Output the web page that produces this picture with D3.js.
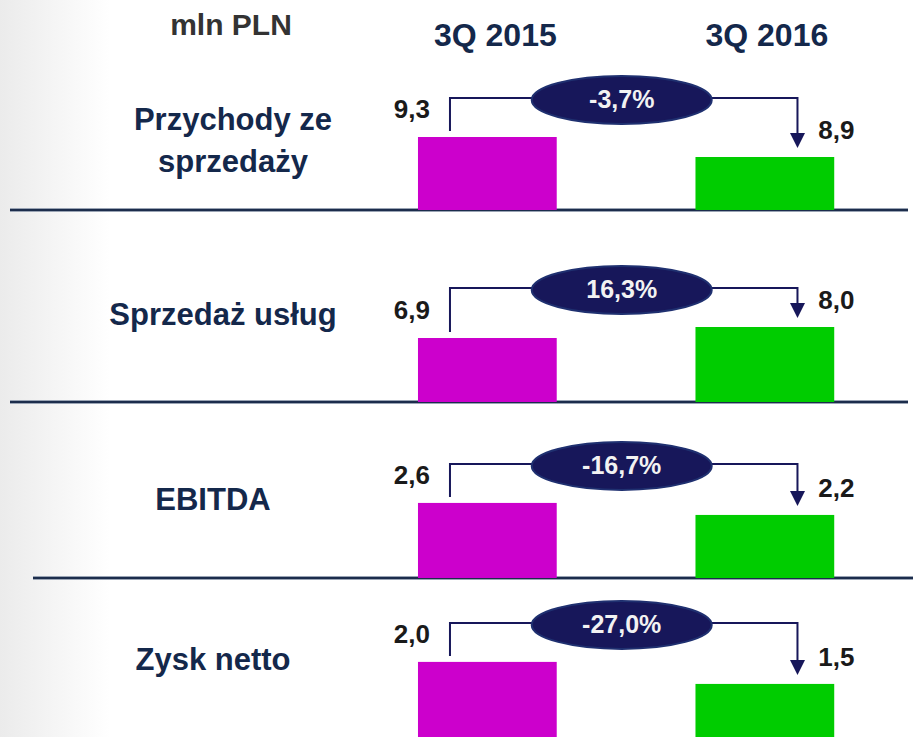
<!DOCTYPE html>
<html>
	<head>
		<meta charset="utf-8">
		<script src="https://d3js.org/d3.v7.min.js" charset="utf-8"></script>
		<style>
			body { margin: 0; background: #fff; }
			text { font-family: "Liberation Sans", Arial, sans-serif; font-weight: bold; }
		</style>
	</head>

	<body>
		<svg id="chart" width="913" height="737"></svg>

		<script>
			// data
			const unitLabel = "mln PLN";
			const periods = ["3Q 2015", "3Q 2016"];
			const categories = [["Przychody ze", "sprzedaży"], ["Sprzedaż usług"], ["EBITDA"], ["Zysk netto"]];
			const values2015 = [9.3, 6.9, 2.6, 2.0];
			const values2016 = [8.9, 8.0, 2.2, 1.5];
			const changes = ["-3,7%", "16,3%", "-16,7%", "-27,0%"];
			// each panel has its own truncated value axis
			const scaleDomains = [[7.84, 9.84], [0.5, 10.5], [0.1, 3.43], [0, 2.27]];

			const svg = d3.select("#chart");
			const width = 913, height = 737;
			const panelBase = [210, 402, 578, 750];
			const labelBaseline = [130, 325, 510, 670];
			const labelCenter = [233, 223, 213, 213];
			const lineX = [[10, 908], [10, 908], [33, 913], null];
			const panelHeight = 100;
			const navy = "#17175a";
			const fmt = v => d3.format(".1f")(v).replace(".", ",");

			// soft grey edge on the left
			const defs = svg.append("defs");
			const grad = defs.append("linearGradient").attr("id", "edge")
				.attr("x1", "0").attr("x2", "1").attr("y1", "0").attr("y2", "0");
			grad.append("stop").attr("offset", "0").attr("stop-color", "#ebebeb");
			grad.append("stop").attr("offset", "1").attr("stop-color", "#ffffff");
			svg.append("rect").attr("width", 110).attr("height", height).attr("fill", "url(#edge)");

			const x = d3.scaleBand()
				.domain(periods)
				.range([348.6, 903.6])
				.paddingInner(0.5)
				.paddingOuter(0.25);
			const colors = d3.scaleOrdinal().domain(periods).range(["#cc00cc", "#00cc00"]);

			// headers
			svg.append("text")
				.attr("x", 231).attr("y", 35)
				.attr("text-anchor", "middle")
				.attr("font-size", 30)
				.attr("fill", "#333333")
				.text(unitLabel);
			svg.selectAll("text.period")
				.data(periods)
				.enter()
				.append("text")
				.attr("class", "period")
				.attr("x", (d, i) => x(d) + x.bandwidth() / 2 + (i == 0 ? 8 : 2))
				.attr("y", 46)
				.attr("text-anchor", "middle")
				.attr("font-size", 32)
				.attr("fill", "#14284b")
				.text(d => d);

			categories.forEach(function (cat, i) {
				const base = panelBase[i];
				const y = d3.scaleLinear().domain(scaleDomains[i]).range([base, base - panelHeight]);
				const vals = [values2015[i], values2016[i]];
				const g = svg.append("g");

				// separator line
				if (lineX[i]) {
					g.append("line")
						.attr("x1", lineX[i][0]).attr("x2", lineX[i][1])
						.attr("y1", base).attr("y2", base)
						.attr("stroke", "#9aa4b4").attr("stroke-width", 4);
					g.append("line")
						.attr("x1", lineX[i][0]).attr("x2", lineX[i][1])
						.attr("y1", base).attr("y2", base)
						.attr("stroke", "#1c2d4c").attr("stroke-width", 2);
				}

				// bars
				g.selectAll("rect.bar")
					.data(periods)
					.enter()
					.append("rect")
					.attr("class", "bar")
					.attr("x", d => x(d))
					.attr("width", x.bandwidth())
					.attr("y", (d, j) => y(vals[j]))
					.attr("height", (d, j) => base - y(vals[j]))
					.attr("fill", d => colors(d));

				// value labels
				g.append("text")
					.attr("x", x(periods[0]) + 12).attr("y", y(vals[0]) - 19)
					.attr("text-anchor", "end")
					.attr("font-size", 26)
					.attr("fill", "#1a1a1a")
					.text(fmt(vals[0]));
				g.append("text")
					.attr("x", x(periods[1]) + x.bandwidth() - 16).attr("y", y(vals[1]) - 18)
					.attr("text-anchor", "start")
					.attr("font-size", 26)
					.attr("fill", "#1a1a1a")
					.text(fmt(vals[1]));

				// connector with arrow
				const xl = x(periods[0]) + 32;
				const xr = x(periods[1]) + 102;
				const topY = Math.min(y(vals[0]), y(vals[1])) - 39;
				const tipY = y(vals[1]) - 9;
				g.append("path")
					.attr("d", d3.line()([[xl, y(vals[0]) - 6], [xl, topY], [xr, topY], [xr, tipY - 14]]))
					.attr("fill", "none")
					.attr("stroke", navy)
					.attr("stroke-width", 2);
				g.append("path")
					.attr("d", d3.line()([[xr - 7.5, tipY - 15], [xr + 7.5, tipY - 15], [xr, tipY]]) + "Z")
					.attr("fill", navy);

				// change bubble
				const cx = (xl + xr) / 2 - 2;
				g.append("ellipse")
					.attr("cx", cx).attr("cy", topY + 2)
					.attr("rx", 90).attr("ry", 24)
					.attr("fill", navy)
					.attr("stroke", "#1f3070")
					.attr("stroke-width", 2);
				g.append("text")
					.attr("x", cx).attr("y", topY + 10)
					.attr("text-anchor", "middle")
					.attr("font-size", 25)
					.attr("fill", "#f2f2f2")
					.text(changes[i]);

				// category label
				const lh = 42;
				g.selectAll("text.cat")
					.data(cat)
					.enter()
					.append("text")
					.attr("class", "cat")
					.attr("x", labelCenter[i])
					.attr("y", (d, k) => labelBaseline[i] + k * lh)
					.attr("text-anchor", "middle")
					.attr("font-size", 31)
					.attr("fill", "#14284b")
					.text(d => d);
			});
		</script>
	</body>
</html>
